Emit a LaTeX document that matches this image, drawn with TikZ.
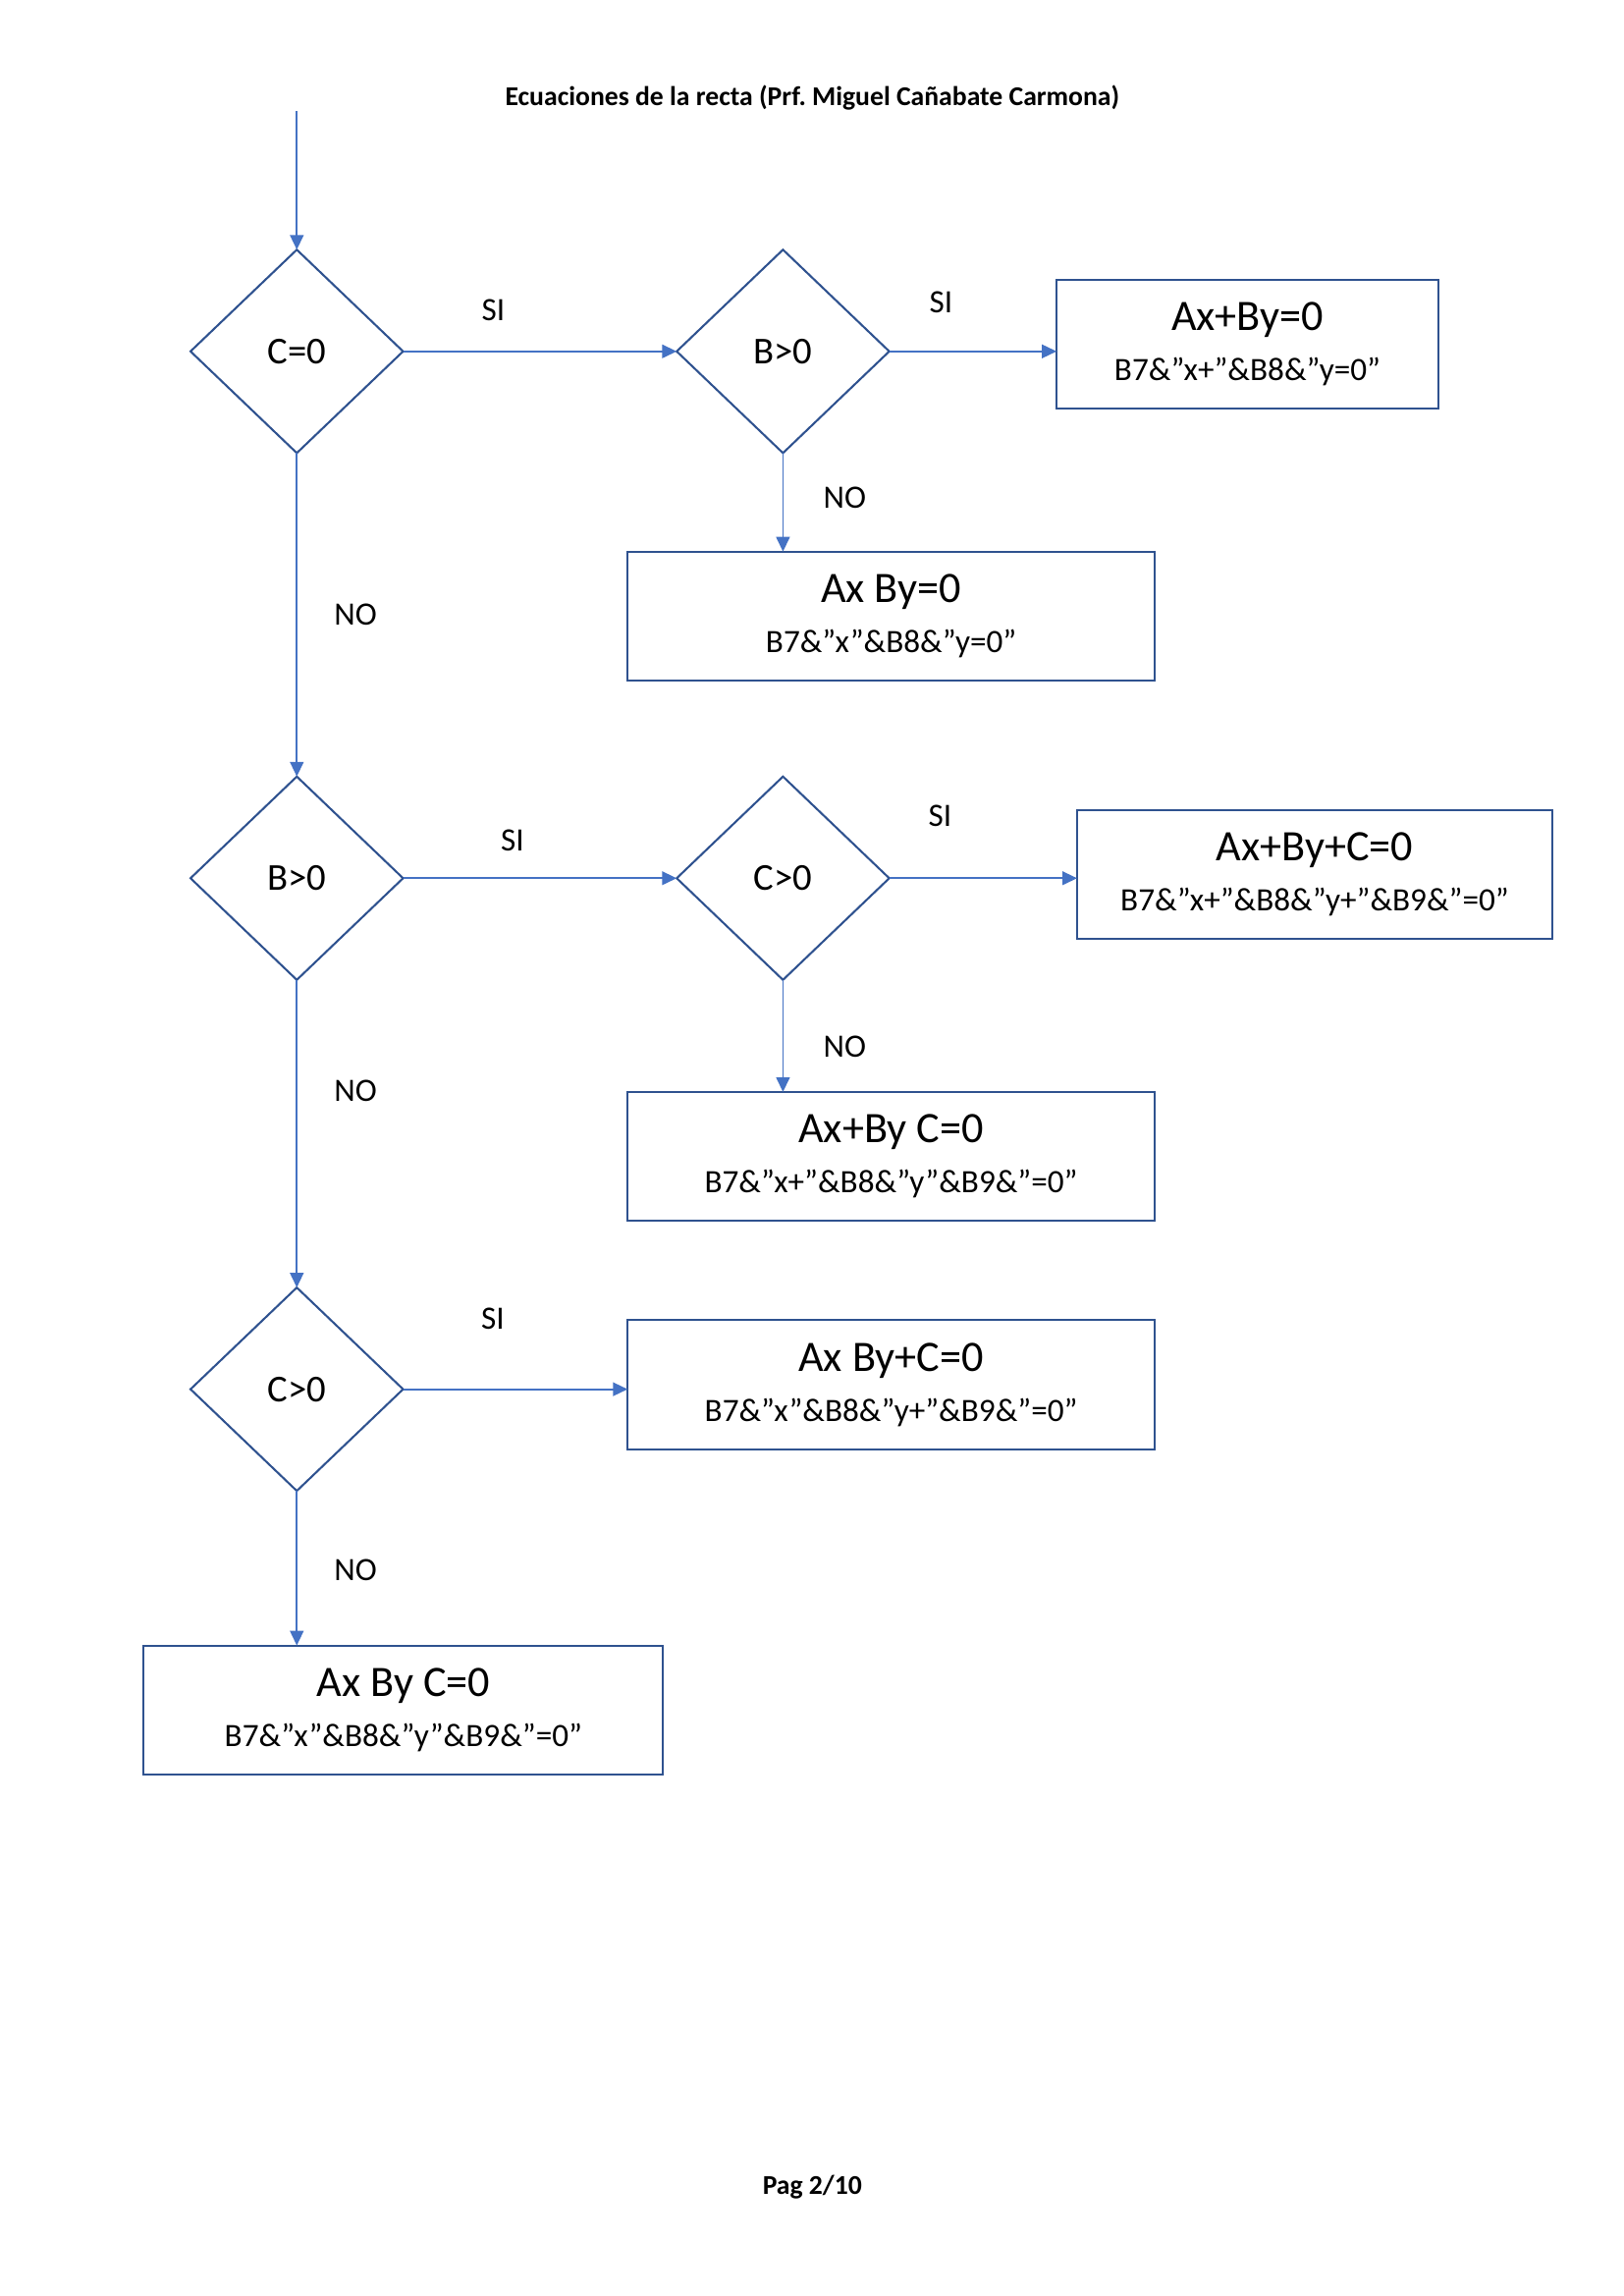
\documentclass[tikz,border=0pt]{standalone}
\usepackage{fontspec}
\setmainfont{Carlito}
\usetikzlibrary{arrows.meta,shapes.geometric}
\definecolor{Arrow}{HTML}{4472C4}
\definecolor{Edge}{HTML}{2F528F}
\definecolor{Ink}{HTML}{000000}
\frenchspacing
\tikzset{
  decision/.style={draw=Edge,line width=0.75pt,diamond,minimum width=27.5mm,minimum height=26.3mm,inner sep=0pt,outer sep=0pt,font=\fontsize{14}{16}\selectfont,text=Ink},
  eqbox/.style={draw=Edge,line width=0.75pt,rectangle,minimum height=16.7mm,inner sep=0pt,outer sep=0pt,align=center,font=\fontsize{12}{18.5}\selectfont,text=Ink},
  line/.style={-{Triangle[length=5.4pt,width=5pt]},draw=Arrow,line width=0.65pt},
  lbl/.style={font=\fontsize{12}{14}\selectfont,text=Ink,inner sep=0pt},
  headline/.style={font=\fontsize{10}{12}\selectfont\bfseries,text=Ink,anchor=base}
}
\newcommand{\eqbig}[1]{{\fontsize{16}{18}\selectfont #1}}

\begin{document}
\begin{tikzpicture}[x=1mm,y=-1mm]
  \useasboundingbox (0,0) rectangle (210,297);
  \node[headline] (title) at (105.1,13.6) {Ecuaciones de la recta (Prf. Miguel Cañabate Carmona)};
  \node[headline] (page) at (105.1,283.9) {Pag 2/10};

  \coordinate (start) at (38.4,14.4);
  \node[decision] (c0) at (38.4,45.45) {C=0};
  \node[decision] (b0) at (101.3,45.45) {B>0};
  \node[eqbox,minimum width=49.4mm] (axby) at (161.4,44.5) {\eqbig{Ax+By=0}\\B7\&”x+”\&B8\&”y=0”};
  \node[eqbox,minimum width=68.2mm] (axmby) at (115.3,79.7) {\eqbig{Ax By=0}\\B7\&”x”\&B8\&”y=0”};
  \node[decision] (b1) at (38.4,113.6) {B>0};
  \node[decision] (c1) at (101.3,113.6) {C>0};
  \node[eqbox,minimum width=61.5mm] (axbyc) at (170.1,113.1) {\eqbig{Ax+By+C=0}\\B7\&”x+”\&B8\&”y+”\&B9\&”=0”};
  \node[eqbox,minimum width=68.2mm] (axbymc) at (115.3,149.6) {\eqbig{Ax+By C=0}\\B7\&”x+”\&B8\&”y”\&B9\&”=0”};
  \node[decision] (c2) at (38.4,179.7) {C>0};
  \node[eqbox,minimum width=68.2mm] (axmbyc) at (115.3,179.1) {\eqbig{Ax By+C=0}\\B7\&”x”\&B8\&”y+”\&B9\&”=0”};
  \node[eqbox,minimum width=67.2mm] (axmbymc) at (52.2,221.2) {\eqbig{Ax By C=0}\\B7\&”x”\&B8\&”y”\&B9\&”=0”};

  \draw[line] (start) -- (c0);
  \draw[line] (c0) -- node[lbl,pos=0.33,yshift=5.3mm] (si1) {SI} (b0);
  \draw[line] (b0.east) -- node[lbl,pos=0.31,yshift=6.4mm] (si2) {SI} (b0.east -| axby.west);
  \draw[line] (b0.south) -- node[lbl,pos=0.45,xshift=8mm] (no1) {NO} (b0.south |- axmby.north);
  \draw[line] (c0) -- node[lbl,pos=0.5,xshift=7.6mm] (no2) {NO} (b1);
  \draw[line] (b1) -- node[lbl,pos=0.4,yshift=4.9mm] (si3) {SI} (c1);
  \draw[line] (c1.east) -- node[lbl,pos=0.27,yshift=8mm] (si4) {SI} (c1.east -| axbyc.west);
  \draw[line] (c1.south) -- node[lbl,pos=0.6,xshift=8mm] (no3) {NO} (c1.south |- axbymc.north);
  \draw[line] (b1) -- node[lbl,pos=0.36,xshift=7.6mm] (no4) {NO} (c2);
  \draw[line] (c2.east) -- node[lbl,pos=0.4,yshift=9.1mm] (si5) {SI} (c2.east -| axmbyc.west);
  \draw[line] (c2.south) -- node[lbl,pos=0.51,xshift=7.6mm] (no5) {NO} (c2.south |- axmbymc.north);
\end{tikzpicture}
\end{document}
